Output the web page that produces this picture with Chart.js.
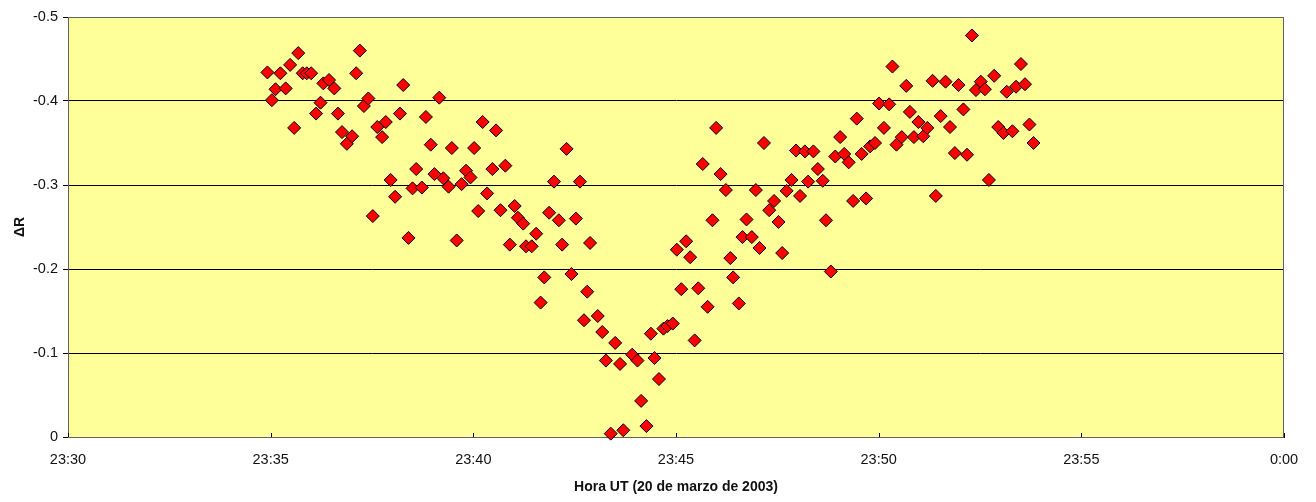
<!DOCTYPE html>
<html>
<head>
<meta charset="utf-8">
<script src="https://cdn.jsdelivr.net/npm/chart.js@4/dist/chart.umd.min.js"></script>
<style>
  html, body { margin: 0; padding: 0; background: #fff; }
  #wrap { width: 1316px; height: 502px; }
</style>
</head>
<body>
<div id="wrap"><canvas id="deltaChart" width="1316" height="502"></canvas></div>
<script>
// minutes after 23:00 UT
const minutes = [
  34.92, 35.03, 35.12, 35.24, 35.37, 35.48, 35.58, 35.68, 35.79, 35.89,
  36.00, 36.12, 36.23, 36.30, 36.44, 36.57, 36.66, 36.76, 36.88, 37.01,
  37.11, 37.20, 37.30, 37.41, 37.52, 37.63, 37.75, 37.84, 37.96, 38.07,
  38.19, 38.27, 38.40, 38.50, 38.59, 38.73, 38.83, 38.95, 39.04, 39.16,
  39.26, 39.39, 39.47, 39.59, 39.71, 39.82, 39.93, 40.02, 40.12, 40.23,
  40.34, 40.47, 40.56, 40.67, 40.79, 40.90, 41.02, 41.10, 41.23, 41.30,
  41.44, 41.55, 41.66, 41.75, 41.87, 41.99, 42.11, 42.19, 42.30, 42.42,
  42.53, 42.63, 42.73, 42.81, 42.88, 43.07, 43.18, 43.27, 43.39, 43.50,
  43.62, 43.70, 43.92, 44.05, 44.14, 44.27, 44.38, 44.47, 44.58, 44.69,
  44.79, 44.92, 45.02, 45.13, 45.25, 45.35, 45.46, 45.55, 45.66, 45.78,
  45.90, 45.99, 46.10, 46.23, 46.34, 46.41, 46.55, 46.64, 46.74, 46.87,
  46.97, 47.06, 47.17, 47.30, 47.42, 47.53, 47.62, 47.73, 47.85, 47.96,
  48.06, 48.18, 48.26, 48.39, 48.50, 48.62, 48.70, 48.82, 48.93, 49.05,
  49.15, 49.26, 49.37, 49.46, 49.58, 49.69, 49.79, 49.91, 50.01, 50.13,
  50.26, 50.34, 50.44, 50.57, 50.68, 50.77, 50.87, 50.98, 51.10, 51.20,
  51.33, 51.41, 51.53, 51.65, 51.76, 51.88, 51.97, 52.09, 52.18, 52.30,
  52.40, 52.52, 52.62, 52.72, 52.85, 52.95, 53.08, 53.16, 53.30, 53.39,
  53.51, 53.61, 53.72, 53.82
];

const deltaR = [
  -0.434, -0.401, -0.414, -0.433, -0.415, -0.443, -0.368, -0.457, -0.433, -0.433,
  -0.433, -0.385, -0.398, -0.421, -0.425, -0.415, -0.385, -0.363, -0.349, -0.358,
  -0.433, -0.460, -0.394, -0.403, -0.263, -0.369, -0.357, -0.375, -0.306, -0.286,
  -0.385, -0.419, -0.237, -0.296, -0.319, -0.297, -0.381, -0.348, -0.313, -0.404,
  -0.308, -0.298, -0.344, -0.234, -0.301, -0.317, -0.309, -0.344, -0.269, -0.375,
  -0.290, -0.319, -0.365, -0.270, -0.323, -0.229, -0.275, -0.261, -0.254, -0.227,
  -0.227, -0.242, -0.160, -0.190, -0.267, -0.304, -0.258, -0.229, -0.343, -0.194,
  -0.260, -0.304, -0.139, -0.173, -0.231, -0.144, -0.125, -0.091, -0.004, -0.112,
  -0.087, -0.008, -0.098, -0.091, -0.043, -0.013, -0.123, -0.094, -0.069, -0.129,
  -0.132, -0.135, -0.223, -0.176, -0.233, -0.214, -0.115, -0.177, -0.325, -0.155,
  -0.258, -0.368, -0.313, -0.294, -0.213, -0.190, -0.159, -0.238, -0.259, -0.238,
  -0.294, -0.225, -0.350, -0.270, -0.281, -0.256, -0.219, -0.293, -0.306, -0.341,
  -0.287, -0.340, -0.304, -0.340, -0.319, -0.305, -0.258, -0.197, -0.334, -0.357,
  -0.337, -0.327, -0.281, -0.379, -0.337, -0.284, -0.346, -0.350, -0.397, -0.368,
  -0.396, -0.441, -0.348, -0.357, -0.418, -0.387, -0.357, -0.375, -0.358, -0.368,
  -0.424, -0.287, -0.382, -0.423, -0.369, -0.338, -0.419, -0.390, -0.336, -0.478,
  -0.413, -0.423, -0.414, -0.306, -0.430, -0.369, -0.362, -0.411, -0.364, -0.417,
  -0.444, -0.420, -0.372, -0.350
];

const xTicks = [30, 35, 40, 45, 50, 55, 60];
const xTickLabels = ["23:30", "23:35", "23:40", "23:45", "23:50", "23:55", "0:00"];
const yTicks = [-0.5, -0.4, -0.3, -0.2, -0.1, 0];
const yTickLabels = ["-0.5", "-0.4", "-0.3", "-0.2", "-0.1", "0"];

const points = minutes.map((m, i) => ({ x: m, y: deltaR[i] }));

// yellow plot area, dark grey frame and small inward x ticks
const plotArea = {
  id: "plotArea",
  beforeDraw(chart) {
    const { ctx, chartArea: a } = chart;
    ctx.save();
    ctx.fillStyle = "#FFFF99";
    ctx.fillRect(a.left, a.top, a.right - a.left, a.bottom - a.top);
    ctx.restore();
  },
  beforeDatasetsDraw(chart) {
    const { ctx, chartArea: a } = chart;
    const xs = chart.scales.x;
    ctx.save();
    ctx.strokeStyle = "#606060";
    ctx.lineWidth = 1;
    ctx.strokeRect(a.left + 0.5, a.top + 0.5, a.right - a.left - 1, a.bottom - a.top);
    ctx.strokeStyle = "#000";
    ctx.beginPath();
    xTicks.forEach(v => {
      const px = Math.round(xs.getPixelForValue(v)) + 0.5;
      ctx.moveTo(px, a.bottom);
      ctx.lineTo(px, a.bottom - 4);
    });
    ctx.stroke();
    ctx.restore();
  }
};

const tickFont = { family: "'Liberation Sans', Arial, sans-serif", size: 14.5 };
const titleFont = { family: "'Liberation Sans', Arial, sans-serif", size: 14, weight: "bold" };

new Chart(document.getElementById("deltaChart"), {
  type: "scatter",
  data: {
    datasets: [{
      data: points,
      pointStyle: "rectRot",
      pointRadius: 6.5,
      pointHoverRadius: 6.5,
      backgroundColor: "#FF0000",
      borderColor: "#000000",
      borderWidth: 1,
      clip: false
    }]
  },
  options: {
    responsive: false,
    devicePixelRatio: 1,
    animation: false,
    layout: { padding: { top: 17, right: 32, left: 0, bottom: 0 } },
    plugins: {
      legend: { display: false },
      tooltip: { enabled: false }
    },
    scales: {
      x: {
        type: "linear",
        min: 30,
        max: 60,
        afterBuildTicks: (s) => { s.ticks = xTicks.map(v => ({ value: v })); },
        afterFit: (s) => { s.height = 65; },
        ticks: {
          color: "#111",
          font: tickFont,
          padding: 14,
          maxRotation: 0,
          callback: (v) => xTickLabels[xTicks.indexOf(v)]
        },
        grid: { drawOnChartArea: false, drawTicks: false },
        border: { color: "#000" },
        title: {
          display: true,
          text: "Hora UT (20 de marzo de 2003)",
          color: "#111",
          font: titleFont,
          padding: { top: 0, bottom: 6 }
        }
      },
      y: {
        type: "linear",
        min: -0.5,
        max: 0,
        reverse: true,
        afterBuildTicks: (s) => { s.ticks = yTicks.map(v => ({ value: v })); },
        afterFit: (s) => { s.width = 68; },
        ticks: {
          color: "#111",
          font: tickFont,
          padding: 5,
          callback: (v) => yTickLabels[yTicks.indexOf(v)]
        },
        grid: { color: "#000", tickLength: 5, drawTicks: true },
        border: { color: "#000" },
        title: {
          display: true,
          text: "ΔR",
          color: "#111",
          font: titleFont,
          padding: { top: 12, bottom: 0 }
        }
      }
    }
  },
  plugins: [plotArea]
});
</script>
</body>
</html>
